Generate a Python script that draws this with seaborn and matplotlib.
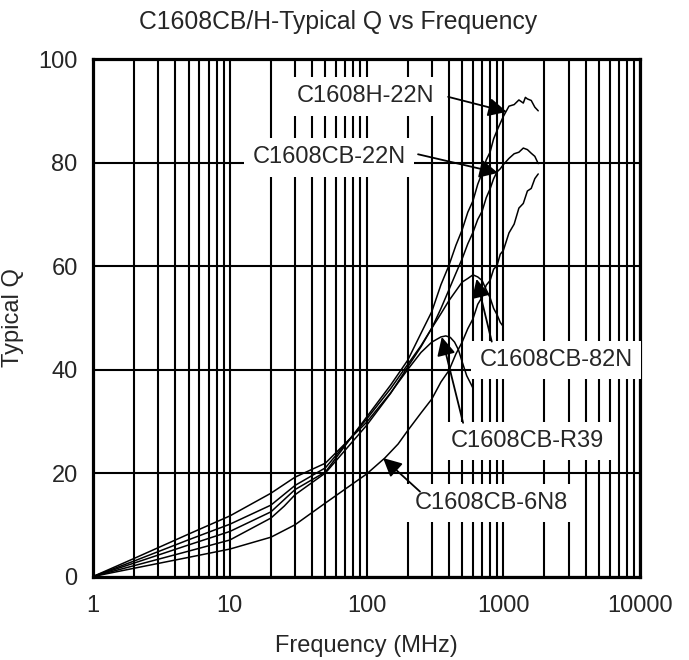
import numpy as np
import pandas as pd
import seaborn as sns
import matplotlib.pyplot as plt
from matplotlib.ticker import LogLocator, NullFormatter, FixedLocator

# curves (MHz, Q)
f_r39 = [1, 2, 5, 10, 20, 30, 50, 100, 150, 200, 250, 300, 350, 380, 410, 440, 470, 500, 540, 580, 600]
q_r39 = [0, 3.5, 8.2, 11.7, 16.1, 19.2, 21.9, 29.8, 35.5, 40.0, 43.3, 45.3, 46.3, 46.5, 46.2, 45.3, 43.8, 41.5, 38.8, 37.2, 36.4]

f_82n = [1, 2, 5, 10, 20, 30, 50, 100, 150, 200, 250, 300, 350, 400, 450, 500, 550, 600, 650, 700, 750, 800, 850, 900, 950, 1000]
q_82n = [0, 3.0, 7.1, 10.1, 13.8, 17.6, 21.0, 30.4, 36.3, 41.0, 44.6, 48.0, 50.8, 53.3, 55.2, 56.9, 57.6, 58.3, 57.9, 57.2, 55.4, 53.9, 51.8, 50.6, 49.1, 48.3]

f_h22n = [1, 2, 5, 10, 20, 30, 50, 100, 150, 200, 250, 300, 350, 400, 450, 500, 550, 600, 650, 700, 750, 800, 850, 900, 950, 1000,
          1100, 1200, 1300, 1400, 1450, 1500, 1600, 1700, 1800]
q_h22n = [0, 2.6, 6.1, 8.7, 12.5, 16.8, 20.2, 30.8, 37.0, 41.8, 47.0, 51.2, 56.4, 60.1, 64.0, 67.0, 70.4, 72.6, 75.8, 78.0, 80.5, 82.0, 84.6, 86.2, 87.6, 88.9,
          90.9, 91.2, 92.1, 91.5, 92.6, 92.3, 92.0, 90.7, 90.0]

f_cb22n = [1, 2, 5, 10, 20, 25, 30, 50, 100, 150, 200, 250, 300, 350, 400, 450, 500, 550, 600, 650, 700, 750, 800, 850, 900, 950, 1000,
           1100, 1200, 1300, 1400, 1500, 1600, 1700, 1800]
q_cb22n = [0, 2.1, 4.9, 7.05, 11.3, 13.6, 15.8, 20.0, 29.2, 35.4, 40.5, 44.4, 48.0, 51.8, 55.4, 58.6, 61.4, 64.3, 66.5, 69.0, 70.6, 73.2, 74.9, 76.9, 78.2, 78.8, 79.6,
           80.8, 81.7, 82.0, 82.8, 82.5, 81.8, 81.2, 79.8]

f_6n8 = [1, 2, 5, 10, 20, 30, 50, 100, 136, 170, 200, 250, 300, 350, 400, 450, 500, 550, 600, 650, 700, 750, 800, 850, 900, 950, 1000,
         1100, 1200, 1300, 1400, 1500, 1600, 1700, 1800]
q_6n8 = [0, 1.6, 3.7, 5.3, 7.6, 10.0, 14.2, 19.8, 22.9, 25.6, 28.2, 31.6, 34.3, 37.6, 39.8, 43.0, 45.3, 47.9, 49.8, 52.6, 54.0, 56.3, 57.2, 59.4, 60.1, 62.3, 63.0,
         66.4, 68.1, 71.2, 72.1, 74.5, 75.0, 76.9, 77.8]

parts = ["C1608CB-R39", "C1608CB-82N", "C1608H-22N", "C1608CB-22N", "C1608CB-6N8"]

# label text, text position, arrow start, arrow tip (all in data units)
labels = ["C1608H-22N", "C1608CB-22N", "C1608CB-82N", "C1608CB-R39", "C1608CB-6N8"]
label_pos = [(99, 92.8), (53, 81.0), (2430, 41.8), (1490, 26.2), (813, 14.2)]
arrow_from = [(395, 92.7), (238, 81.6), (823, 45.4), (508, 29.7), (246, 16.4)]
arrow_to = [(1060, 89.8), (915, 78.0), (637, 57.5), (355, 46.3), (132, 22.9)]

rows = []
for name, ff, qq in zip(parts, [f_r39, f_82n, f_h22n, f_cb22n, f_6n8],
                        [q_r39, q_82n, q_h22n, q_cb22n, q_6n8]):
    for a, b in zip(ff, qq):
        rows.append((name, a, b))
df = pd.DataFrame(rows, columns=["part", "freq", "Q"])

sns.set_style("white")
plt.rcParams['font.family'] = ['Liberation Sans', 'DejaVu Sans']
plt.rcParams['font.size'] = 17

fig = plt.figure(figsize=(6.89, 6.6), dpi=100)
ax = fig.add_axes([0.135, 0.1265, 0.794, 0.784])

sns.lineplot(data=df, x="freq", y="Q", units="part", estimator=None, sort=False,
             color="black", lw=1.1, ax=ax, zorder=4)

ax.set_xscale("log")
ax.set_xlim(1, 10000)
ax.set_ylim(0, 100)
ax.xaxis.set_major_locator(FixedLocator([1, 10, 100, 1000, 10000]))
ax.set_xticklabels(["1", "10", "100", "1000", "10000"])
ax.xaxis.set_minor_locator(LogLocator(base=10, subs=np.arange(2, 10)))
ax.xaxis.set_minor_formatter(NullFormatter())
ax.set_yticks([0, 20, 40, 60, 80, 100])
ax.tick_params(which="both", length=0)
ax.tick_params(axis="x", pad=13, labelsize=17)
ax.tick_params(axis="y", pad=11, labelsize=17)

ax.set_axisbelow(True)
ax.grid(which="both", axis="x", color="black", lw=1.5)
ax.grid(which="major", axis="y", color="black", lw=1.5)
for s in ax.spines.values():
    s.set_color("black")
    s.set_linewidth(2.3)

for txt, p, a, b in zip(labels, label_pos, arrow_from, arrow_to):
    ax.text(p[0], p[1], txt, ha="center", va="center", fontsize=17, zorder=3,
            bbox=dict(boxstyle="square,pad=0.35", fc="white", ec="none"))
    ax.annotate("", xy=b, xytext=a, zorder=5,
                arrowprops=dict(arrowstyle="-|>", color="black", lw=1.3,
                                mutation_scale=28, shrinkA=0, shrinkB=0))

ax.set_title("C1608CB/H-Typical Q vs Frequency", fontsize=17.8, pad=22, x=0.448)
ax.set_xlabel("Frequency (MHz)", fontsize=17, labelpad=13)
ax.set_ylabel("Typical Q", fontsize=17, labelpad=10)

fig.savefig("out.png", dpi=100)
